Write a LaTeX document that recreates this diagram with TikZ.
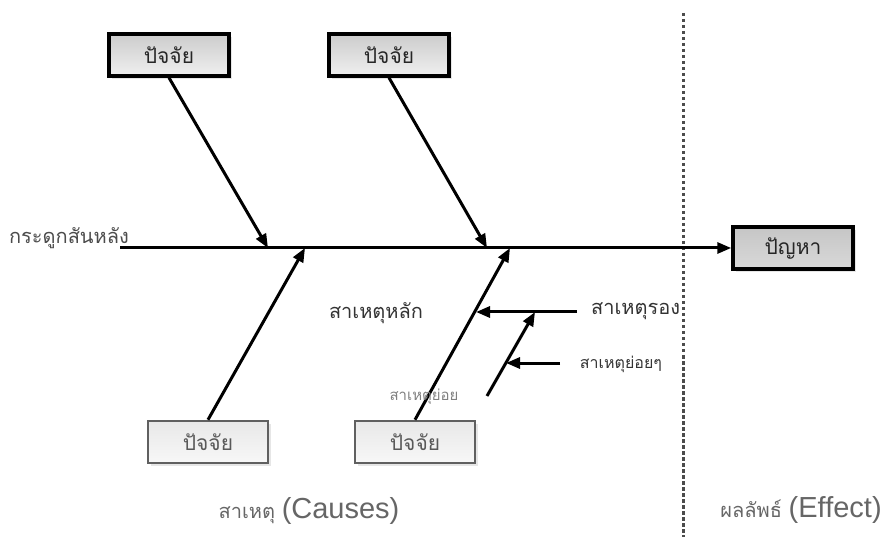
\documentclass[tikz,border=0pt]{standalone}
\usepackage{fontspec}
\setmainfont{Liberation Sans}
\newfontfamily\thai[Script=Thai]{Loma}
\usetikzlibrary{arrows.meta,shadows}

\tikzset{
  box/.style={draw=black,line width=3.5pt,top color=gray!40,bottom color=gray!12,
    minimum width=120pt,minimum height=42pt,inner sep=0pt,
    font=\thai\fontsize{21}{24}\selectfont,text=black!85,
    drop shadow={shadow xshift=3pt,shadow yshift=-3pt,opacity=.2}},
  lowbox/.style={box,draw=gray!75!black,line width=2.5pt,top color=gray!18,bottom color=gray!6,
    text=gray!70!black},
  bone/.style={line width=3pt,-{Triangle[length=14pt,width=11pt]}},
  lbl/.style={font=\thai\fontsize{20}{22}\selectfont,text=black!80,inner sep=0pt},
}

\begin{document}
\begin{tikzpicture}[x=1pt,y=-1pt]
  \useasboundingbox (0,0) rectangle (889,537);
  % factor boxes
  \node(f1) at (169,55)[box]{ปัจจัย};
  \node(f2) at (389,55)[box]{ปัจจัย};
  \node(f3) at (208,442)[lowbox]{ปัจจัย};
  \node(f4) at (415,442)[lowbox]{ปัจจัย};
  \node(prob) at (793,248)[box,top color=gray!45,bottom color=gray!30]{ปัญหา};
  % points on the spine
  \coordinate(tail) at (120,248);
  \coordinate(s1) at (268,248);
  \coordinate(s2) at (305,248);
  \coordinate(s3) at (487,248);
  \coordinate(s4) at (510,248);
  % minor causes
  \coordinate(m1) at (476,312);
  \coordinate(m1e) at (577,312);
  \coordinate(n0) at (487,396);
  \coordinate(n1) at (535,312);
  \coordinate(n2) at (506,363);
  \coordinate(n2e) at (560,363);
  % effect divider
  \coordinate(d1) at (683,13);
  \coordinate(d2) at (683,537);
  \draw[gray!60!black,line width=3pt,dash pattern=on 3.5pt off 2.5pt](d1) -- (d2);
  \draw[bone](tail) -- (prob.west);
  \draw[bone](f1.south) -- (s1);
  \draw[bone](f2.south) -- (s3);
  \draw[bone](f3.north) -- (s2);
  \draw[bone](f4.north) -- (s4);
  \draw[bone](m1e) -- (m1);
  \draw[bone](n0) -- (n1);
  \draw[bone](n2e) -- (n2);
  % labels
  \node(spine) at (69,238)[lbl,text=black!70]{กระดูกสันหลัง};
  \node(main) at (376,313)[lbl]{สาเหตุหลัก};
  \node(sec) at (591,311)[lbl,anchor=west]{สาเหตุรอง};
  \node(sub) at (621,364)[lbl,font=\thai\fontsize{16}{18}\selectfont]{สาเหตุย่อยๆ};
  \node(subs) at (424,397)[lbl,font=\thai\fontsize{15}{17}\selectfont,text=gray]{สาเหตุย่อย};
  \node(cause) at (309,511)[lbl,text=gray!80!black]{สาเหตุ \fontsize{29}{31}\selectfont\rmfamily(Causes)};
  \node(effect) at (801,510)[lbl,text=gray!80!black]{ผลลัพธ์ \fontsize{29}{31}\selectfont\rmfamily(Effect)};
\end{tikzpicture}
\end{document}
